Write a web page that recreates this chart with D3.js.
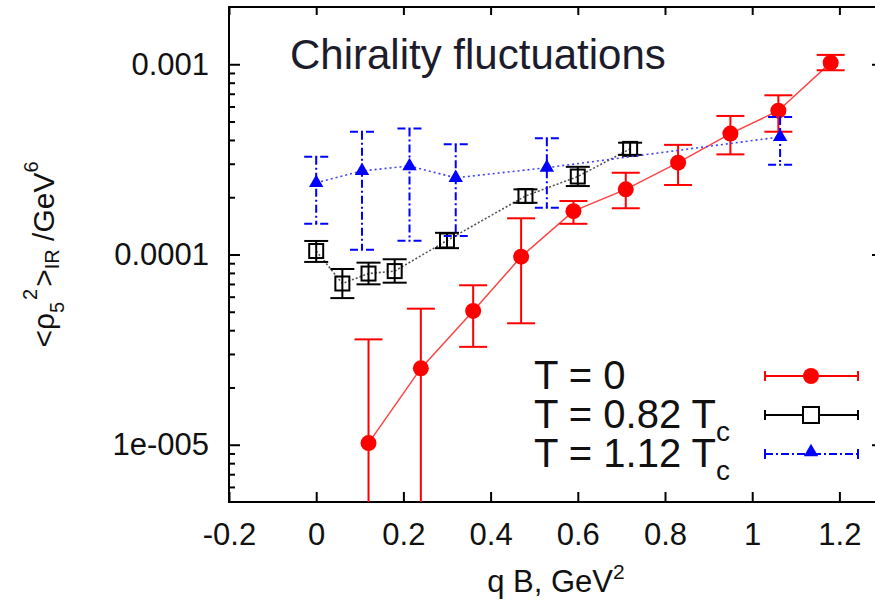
<!DOCTYPE html>
<html>
<head>
<meta charset="utf-8">
<script src="https://cdn.jsdelivr.net/npm/d3@7"></script>
<style>
body{margin:0;background:#fff;}
svg{display:block;}
text{font-family:"Liberation Sans",Arial,sans-serif;}
</style>
</head>
<body>
<svg id="chart" width="875" height="603"></svg>
<script>
// T = 0
var redX  = [0.12, 0.24, 0.36, 0.47, 0.59, 0.71, 0.83, 0.95, 1.06, 1.18];
var redY  = [1.02e-5, 2.52e-5, 5.05e-5, 9.74e-5, 1.69e-4, 2.2e-4, 3.04e-4, 4.32e-4, 5.7e-4, 1.02e-3];
var redHi = [3.58e-5, 5.19e-5, 6.89e-5, 1.55e-4, 1.91e-4, 2.69e-4, 3.77e-4, 5.35e-4, 6.87e-4, 1.12e-3];
var redLo = [null, null, 3.27e-5, 4.35e-5, 1.45e-4, 1.75e-4, 2.32e-4, 3.36e-4, 4.42e-4, 9.3e-4];

// T = 0.82 Tc
var blackX  = [0, 0.06, 0.12, 0.18, 0.30, 0.48, 0.60, 0.72];
var blackY  = [1.043e-4, 7.04e-5, 7.94e-5, 8.18e-5, 1.185e-4, 2.03e-4, 2.57e-4, 3.59e-4];
var blackHi = [1.178e-4, 8.39e-5, 9.06e-5, 9.44e-5, 1.30e-4, 2.20e-4, 2.89e-4, 3.87e-4];
var blackLo = [9.14e-5, 5.9e-5, 6.97e-5, 7.11e-5, 1.08e-4, 1.87e-4, 2.29e-4, 3.34e-4];

// T = 1.12 Tc
var blueX  = [0, 0.105, 0.214, 0.32, 0.529, 1.064];
var blueY  = [2.38e-4, 2.75e-4, 2.92e-4, 2.53e-4, 2.86e-4, 4.15e-4];
var blueHi = [3.26e-4, 4.42e-4, 4.59e-4, 3.8e-4, 4.08e-4, 5.28e-4];
var blueLo = [1.45e-4, 1.06e-4, 1.18e-4, 1.25e-4, 1.76e-4, 2.96e-4];

var xTicks = [-0.2, 0, 0.2, 0.4, 0.6, 0.8, 1, 1.2];
var yTicks = [1e-5, 1e-4, 1e-3];
var yTickLabels = ["1e-005", "0.0001", "0.001"];
var legendNames = ["T = 0", "T = 0.82 T", "T = 1.12 T"];
var legendSubs = ["", "c", "c"];

// plot box (window.top is read-only, so no "top" here)
var pLeft = 229, pTop = 7, pRight = 883, pBottom = 502;

var svg = d3.select("#chart");

var x = d3.scaleLinear().domain([-0.2, 1.3]).range([pLeft, pRight]);
var y = d3.scaleLog().domain([5e-6, 2e-3]).range([pBottom, pTop]);

// minor tick positions on the log axis
var minor = [];
for (var e = -6; e <= -3; e++) {
	for (var m = 2; m <= 9; m++) {
		var v = m * Math.pow(10, e);
		if (v > 5e-6 && v < 2e-3) minor.push(v);
	}
}

function styleAxis(g) {
	g.select(".domain").remove();
	g.selectAll("line").attr("stroke", "#000").attr("stroke-width", 2);
	g.selectAll("text")
		.attr("font-family", '"Liberation Sans",Arial,sans-serif')
		.attr("font-size", 31)
		.attr("fill", "#111");
}

svg.append("g")
	.attr("transform", "translate(0," + pBottom + ")")
	.call(d3.axisBottom(x).tickValues(xTicks).tickSize(-10).tickSizeOuter(0).tickPadding(21)
		.tickFormat(function(d) { return String(+d.toFixed(1)); }))
	.call(styleAxis);

svg.append("g")
	.attr("transform", "translate(0," + pTop + ")")
	.call(d3.axisTop(x).tickValues(xTicks).tickSize(-8).tickSizeOuter(0).tickFormat(""))
	.call(styleAxis);

svg.append("g")
	.attr("transform", "translate(" + pLeft + ",0)")
	.call(d3.axisLeft(y).tickValues(yTicks).tickSize(-11).tickSizeOuter(0).tickPadding(20)
		.tickFormat(function(d, i) { return yTickLabels[i]; }))
	.call(styleAxis);

svg.append("g")
	.attr("transform", "translate(" + pLeft + ",0)")
	.call(d3.axisLeft(y).tickValues(minor).tickSize(-6).tickSizeOuter(0).tickFormat(""))
	.call(styleAxis);

svg.append("g")
	.attr("transform", "translate(" + pRight + ",0)")
	.call(d3.axisRight(y).tickValues(yTicks).tickSize(-11).tickSizeOuter(0).tickFormat(""))
	.call(styleAxis);

svg.append("g")
	.attr("transform", "translate(" + pRight + ",0)")
	.call(d3.axisRight(y).tickValues(minor).tickSize(-6).tickSizeOuter(0).tickFormat(""))
	.call(styleAxis);

svg.append("rect")
	.attr("x", pLeft).attr("y", pTop)
	.attr("width", pRight - pLeft).attr("height", pBottom - pTop)
	.attr("fill", "none").attr("stroke", "#000").attr("stroke-width", 2);

svg.append("clipPath").attr("id", "plotclip")
	.append("rect")
	.attr("x", pLeft).attr("y", pTop)
	.attr("width", pRight - pLeft).attr("height", pBottom - pTop);

var plot = svg.append("g").attr("clip-path", "url(#plotclip)");

function pack(xs, ys, his, los) {
	var out = [];
	for (var i = 0; i < xs.length; i++) out.push({x: xs[i], y: ys[i], hi: his[i], lo: los[i]});
	return out;
}

var redData = pack(redX, redY, redHi, redLo);
var blackData = pack(blackX, blackY, blackHi, blackLo);
var blueData = pack(blueX, blueY, blueHi, blueLo);

var line = d3.line().x(function(d) { return x(d.x); }).y(function(d) { return y(d.y); });

function errorBars(g, data, color, width, half, dash) {
	var eb = g.selectAll(null).data(data).enter().append("g")
		.attr("stroke", color).attr("stroke-width", width).attr("fill", "none")
		.attr("stroke-dasharray", dash);
	eb.append("line")
		.attr("x1", function(d) { return x(d.x); })
		.attr("x2", function(d) { return x(d.x); })
		.attr("y1", function(d) { return y(d.hi); })
		.attr("y2", function(d) { return d.lo == null ? pBottom + 5 : y(d.lo); });
	eb.append("line")
		.attr("x1", function(d) { return x(d.x) - half; })
		.attr("x2", function(d) { return x(d.x) + half; })
		.attr("y1", function(d) { return y(d.hi); })
		.attr("y2", function(d) { return y(d.hi); });
	eb.filter(function(d) { return d.lo != null; }).append("line")
		.attr("x1", function(d) { return x(d.x) - half; })
		.attr("x2", function(d) { return x(d.x) + half; })
		.attr("y1", function(d) { return y(d.lo); })
		.attr("y2", function(d) { return y(d.lo); });
}

// T = 0, red
plot.append("path").datum(redData).attr("d", line)
	.attr("fill", "none").attr("stroke", "#ff4444").attr("stroke-width", 1.5);
errorBars(plot, redData, "#ff0000", 2, 14, null);
plot.selectAll(null).data(redData).enter().append("circle")
	.attr("cx", function(d) { return x(d.x); })
	.attr("cy", function(d) { return y(d.y); })
	.attr("r", 8).attr("fill", "#ff0000");

// T = 0.82 Tc, black
plot.append("path").datum(blackData).attr("d", line)
	.attr("fill", "none").attr("stroke", "#555").attr("stroke-width", 1.6)
	.attr("stroke-dasharray", "2,2");
errorBars(plot, blackData, "#000", 2, 12, null);
plot.selectAll(null).data(blackData).enter().append("rect")
	.attr("x", function(d) { return x(d.x) - 7; })
	.attr("y", function(d) { return y(d.y) - 7; })
	.attr("width", 14).attr("height", 14)
	.attr("fill", "none").attr("stroke", "#000").attr("stroke-width", 2);

// T = 1.12 Tc, blue
plot.append("path").datum(blueData).attr("d", line)
	.attr("fill", "none").attr("stroke", "#4040ff").attr("stroke-width", 1.6)
	.attr("stroke-dasharray", "2,3");
errorBars(plot, blueData, "#0000ff", 2, 12, "8,3,2,3");
var tri = d3.symbol().type(d3.symbolTriangle).size(90);
plot.selectAll(null).data(blueData).enter().append("path")
	.attr("d", tri)
	.attr("transform", function(d) { return "translate(" + x(d.x) + "," + y(d.y) + ")"; })
	.attr("fill", "#0000ff");

// title
svg.append("text")
	.attr("x", 290).attr("y", 69)
	.attr("font-size", 42).attr("fill", "#1c1c2c")
	.text("Chirality fluctuations");

// legend
var legendColors = ["#ff0000", "#000", "#0000ff"];
var legendDash = [null, null, "8,3,2,3"];
for (var i = 0; i < 3; i++) {
	var base = 389 + i * 39;
	var t = svg.append("text").attr("x", 534).attr("y", base)
		.attr("font-size", 40).attr("fill", "#111");
	t.append("tspan").text(legendNames[i]);
	if (legendSubs[i]) t.append("tspan").attr("font-size", 28).attr("dy", 13).text(legendSubs[i]);

	var ly = base - 13;
	var lg = svg.append("g").attr("stroke", legendColors[i]).attr("stroke-width", 2).attr("fill", "none");
	lg.append("line").attr("x1", 765).attr("x2", 858).attr("y1", ly).attr("y2", ly)
		.attr("stroke-dasharray", legendDash[i]);
	lg.append("line").attr("x1", 765).attr("x2", 765).attr("y1", ly - 5).attr("y2", ly + 5);
	lg.append("line").attr("x1", 858).attr("x2", 858).attr("y1", ly - 5).attr("y2", ly + 5);
	if (i == 0) {
		svg.append("circle").attr("cx", 811).attr("cy", ly).attr("r", 8).attr("fill", "#ff0000");
	} else if (i == 1) {
		svg.append("rect").attr("x", 803).attr("y", ly - 8).attr("width", 16).attr("height", 16)
			.attr("fill", "#fff").attr("stroke", "#000").attr("stroke-width", 2);
	} else {
		svg.append("path").attr("d", tri).attr("transform", "translate(811," + (ly - 2) + ")").attr("fill", "#0000ff");
	}
}

// axis titles
var xl = svg.append("text")
	.attr("x", (pLeft + pRight) / 2).attr("y", 592)
	.attr("text-anchor", "middle").attr("font-size", 31).attr("fill", "#111");
xl.append("tspan").text("q B, GeV");
xl.append("tspan").attr("font-size", 21).attr("dy", -13).text("2");

var yl = svg.append("text")
	.attr("transform", "translate(54," + ((pTop + pBottom) / 2) + ") rotate(-90)")
	.attr("text-anchor", "middle").attr("font-size", 30).attr("fill", "#111");
yl.append("tspan").text("<ρ");
yl.append("tspan").attr("font-size", 20).attr("dy", 10).text("5");
yl.append("tspan").attr("font-size", 20).attr("dy", -27).attr("dx", 2).text("2");
yl.append("tspan").attr("dy", 17).attr("dx", 2).text(">");
yl.append("tspan").attr("font-size", 20).attr("dy", 5).text("IR");
yl.append("tspan").attr("dy", -5).text(" /GeV");
yl.append("tspan").attr("font-size", 20).attr("dy", -16).text("6");
</script>
</body>
</html>
